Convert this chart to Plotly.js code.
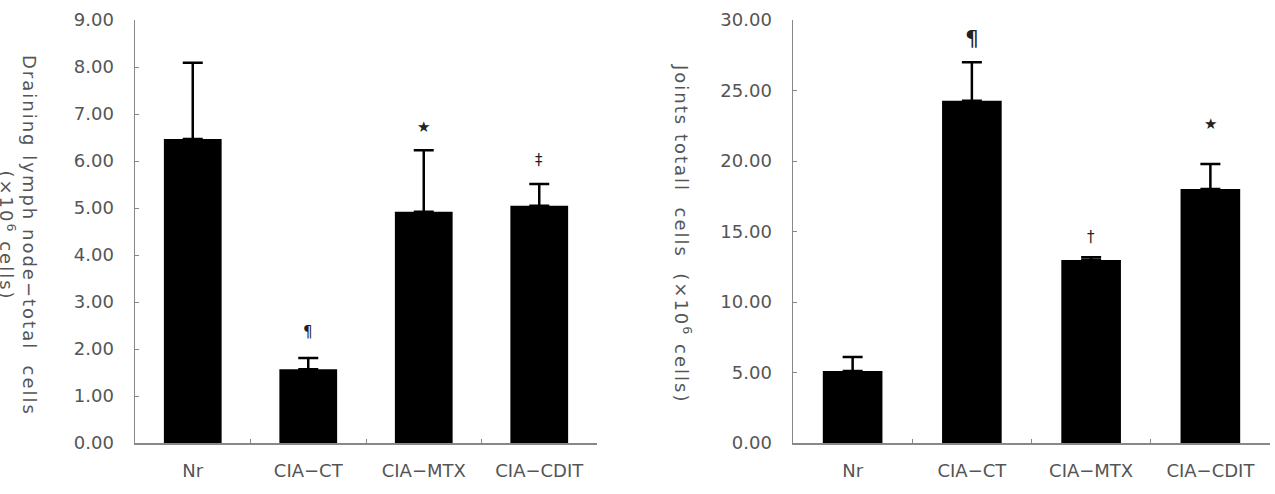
<!DOCTYPE html>
<html><head><meta charset="utf-8">
<script src="https://cdn.plot.ly/plotly-3.0.1.min.js"></script>
<style>html,body{margin:0;padding:0;background:#fff}</style>
</head><body>
<div id="chart" style="width:1275px;height:494px"></div>
<script>
const categories = ["Nr", "CIA−CT", "CIA−MTX", "CIA−CDIT"];
const lymphMean = [6.47, 1.57, 4.92, 5.05];
const lymphErr = [1.62, 0.24, 1.31, 0.46];
const lymphMarks = ["", "¶", "★", "‡"];
const lymphMarkY = [0, 2.36, 6.72, 6.02];
const jointMean = [5.1, 24.28, 12.98, 18.01];
const jointErr = [1.0, 2.72, 0.19, 1.78];
const jointMarks = ["", "¶", "†", "★"];
const jointMarkY = [0, 28.7, 14.63, 22.6];
const lymphTicks = [0,1,2,3,4,5,6,7,8,9];
const jointTicks = [0,5,10,15,20,25,30];

const W = 1275;
const fontFam = '"DejaVu Sans", sans-serif';
const tickFont = {family: fontFam, size: 18, color: '#555'};

function bar(y, err, xa, ya) {
  return {type:'bar', x: categories, y: y, xaxis: xa, yaxis: ya,
    width: 0.5, marker:{color:'#000', line:{width:0}},
    error_y:{type:'data', symmetric:false, array: err, arrayminus: err.map(()=>0),
      color:'#000', thickness:2.5, width:10}, showlegend:false, hoverinfo:'skip'};
}
const traces = [bar(lymphMean, lymphErr, 'x', 'y'), bar(jointMean, jointErr, 'x2', 'y2')];

function xax(domain, anchor) {
  return {domain: domain, anchor: anchor, type:'category', showline:true, linecolor:'#888', linewidth:1.5,
    ticks:'inside', tickson:'boundaries', ticklen:4, tickcolor:'#888', tickwidth:1,
    tickfont: tickFont, ticklabelstandoff: 11, showgrid:false, zeroline:false, fixedrange:true};
}
function yax(range, ticks, anchor) {
  return {range: range, anchor: anchor, tickvals: ticks, ticktext: ticks.map(v=>v.toFixed(2)),
    showline:true, linecolor:'#888', linewidth:1.5, ticks:'inside', ticklen:4, tickcolor:'#888',
    tickfont: tickFont, ticklabelstandoff: 16, showgrid:false, zeroline:false, fixedrange:true};
}

const annotations = [];
categories.forEach((c,i)=>{
  if (lymphMarks[i]) annotations.push({x:c, y:lymphMarkY[i], xref:'x', yref:'y', text:lymphMarks[i],
    showarrow:false, font:{family:fontFam, size:15, color:'#222'}});
  if (jointMarks[i]) annotations.push({x:c, y:jointMarkY[i], xref:'x2', yref:'y2', text:jointMarks[i],
    showarrow:false, font:{family:fontFam, size: jointMarks[i]==='¶'?22:15, color:'#222'}});
});
const sp = s => '<span style="letter-spacing:2px">' + s + '</span>';
annotations.push({xref:'paper', yref:'paper', x:18/W, y:(443-235)/423, xanchor:'center', yanchor:'middle', textangle:90,
  text: sp('Draining lymph node−total  cells') + '<br>' + sp('(×10<sup>6</sup> cells)'), showarrow:false,
  font:{family:fontFam, size:18, color:'#555'}});
annotations.push({xref:'paper', yref:'paper', x:683/W, y:(443-233)/423, xanchor:'center', yanchor:'middle', textangle:90,
  text: sp('Joints totall  cells  (×10<sup>6</sup> cells)'), showarrow:false,
  font:{family:fontFam, size:18, color:'#555'}});

const layout = {
  width: 1275, height: 494, margin:{l:0, r:0, t:20, b:51},
  paper_bgcolor:'#fff', plot_bgcolor:'#fff', bargap:0.5,
  xaxis: xax([135/W, 597/W], 'y'), yaxis: yax([0,9], lymphTicks, 'x'),
  xaxis2: xax([793/W, 1270/W], 'y2'), yaxis2: yax([0,30], jointTicks, 'x2'),
  annotations: annotations
};
Plotly.newPlot('chart', traces, layout, {displayModeBar:false, staticPlot:true});
</script>
</body></html>
